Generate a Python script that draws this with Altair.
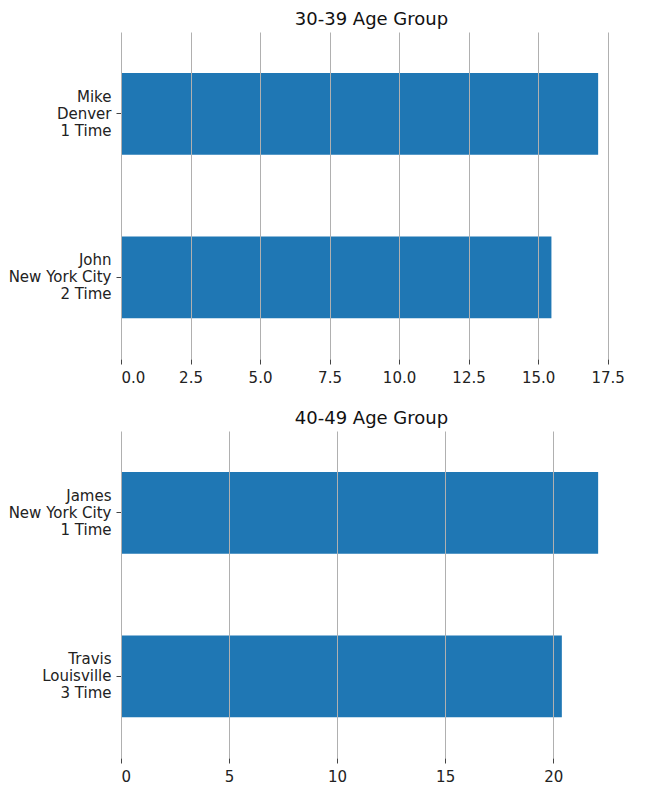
import altair as alt
import pandas as pd

groups = ["30-39 Age Group", "30-39 Age Group", "40-49 Age Group", "40-49 Age Group"]
people = ["Mike\nDenver\n1 Time", "John\nNew York City\n2 Time",
          "James\nNew York City\n1 Time", "Travis\nLouisville\n3 Time"]
values = [17.16, 15.48, 22.08, 20.40]

top_ticks = [0, 2.5, 5, 7.5, 10, 12.5, 15, 17.5]
bottom_ticks = [0, 5, 10, 15, 20]

df = pd.DataFrame({"group": groups, "person": people, "value": values})

FONT = "DejaVu Sans"


def panel(group, ticks, fmt):
    d = df[df["group"] == group]
    order = list(d["person"])
    xmax = d["value"].max() * 1.05
    return (
        alt.Chart(d, title=alt.TitleParams(group, fontSize=18, font=FONT, fontWeight="normal",
                                            color="#111", offset=3))
        .mark_bar(color="#1f77b4")
        .encode(
            x=alt.X("value:Q",
                    scale=alt.Scale(domain=[0, xmax], nice=False, zero=True),
                    axis=alt.Axis(values=ticks, format=fmt, title=None, grid=True,
                                  gridColor="#b0b0b0", gridWidth=1, domain=False,
                                  tickColor="#444", tickSize=5, labelFontSize=15,
                                  labelFont=FONT, labelColor="#222", labelPadding=6,
                                  zindex=1)),
            y=alt.Y("person:N", sort=order,
                    scale=alt.Scale(paddingInner=0.5, paddingOuter=0.25),
                    axis=alt.Axis(title=None, grid=False, domain=False,
                                  labelExpr="split(datum.label, '\\n')",
                                  labelFontSize=15, labelFont=FONT, labelColor="#222",
                                  labelLineHeight=17, labelOffset=-17,
                                  tickColor="#444", tickSize=5, labelPadding=5)),
        )
        .properties(width=501, height=327)
    )


chart = (
    alt.vconcat(panel("30-39 Age Group", top_ticks, ".1f"),
                panel("40-49 Age Group", bottom_ticks, "d"),
                spacing=25)
    .properties(padding={"left": 8, "top": 11, "right": 5, "bottom": 5})
    .configure_view(stroke=None)
)

chart.save("out.html", embed_options={"renderer": "svg", "actions": False})
